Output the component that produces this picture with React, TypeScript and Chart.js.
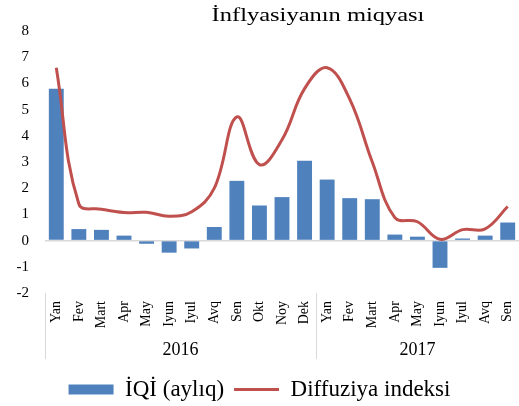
import React, { useEffect, useRef } from 'react';
import { Chart, registerables } from 'chart.js';

Chart.register(...registerables);

const months = ['Yan', 'Fev', 'Mart', 'Apr', 'May', 'Iyun', 'Iyul', 'Avq', 'Sen', 'Okt', 'Noy', 'Dek', 'Yan', 'Fev', 'Mart', 'Apr', 'May', 'Iyun', 'Iyul', 'Avq', 'Sen'];
const years = ['2016', '2017'];
const yearMonthCounts = [12, 9];
const iqiValues = [5.8, 0.44, 0.41, 0.19, -0.12, -0.46, -0.3, 0.52, 2.28, 1.34, 1.66, 3.05, 2.33, 1.62, 1.58, 0.23, 0.15, -1.04, 0.08, 0.19, 0.69];
const diffusionValues = [6.6, 1.4, 1.2, 1.07, 1.08, 0.93, 1.1, 2.0, 4.72, 2.9, 3.85, 5.8, 6.6, 5.4, 3.0, 0.88, 0.72, 0.05, 0.42, 0.45, 1.3];
const seriesNames = ['İQİ (aylıq)', 'Diffuziya indeksi'];
const titleText = 'İnflyasiyanın miqyası';
const yMin = -2;
const yMax = 8;

const FONT = '"Liberation Serif", "Times New Roman", serif';

const titlePlugin = {
  id: 'customTitle',
  afterDraw(chart: any) {
    const { ctx, chartArea } = chart;
    ctx.save();
    ctx.font = `18px ${FONT}`;
    ctx.fillStyle = '#000';
    ctx.textAlign = 'center';
    ctx.textBaseline = 'alphabetic';
    const cx = chartArea.left + (chartArea.right - chartArea.left) * 0.576;
    ctx.translate(cx, 21);
    ctx.scale(1.36, 1);
    ctx.fillText(titleText, 0, 0);
    ctx.restore();
  },
};

const yearPlugin = {
  id: 'yearGroups',
  afterDraw(chart: any) {
    const { ctx, chartArea, scales } = chart;
    const x = scales.x;
    const half = (x.getPixelForValue(1) - x.getPixelForValue(0)) / 2;
    const top = chartArea.bottom;
    const bottom = chartArea.bottom + 66;
    ctx.save();
    ctx.strokeStyle = '#d9d9d9';
    ctx.lineWidth = 1;
    let start = 0;
    const drawSep = (px: number) => {
      ctx.beginPath();
      ctx.moveTo(Math.round(px) + 0.5, top);
      ctx.lineTo(Math.round(px) + 0.5, bottom);
      ctx.stroke();
    };
    drawSep(x.getPixelForValue(0) - half);
    ctx.font = `18px ${FONT}`;
    ctx.fillStyle = '#000';
    ctx.textAlign = 'center';
    ctx.textBaseline = 'middle';
    years.forEach((yr, i) => {
      const end = start + yearMonthCounts[i] - 1;
      const left = x.getPixelForValue(start) - half;
      const right = x.getPixelForValue(end) + half;
      drawSep(right);
      ctx.fillText(yr, (left + right) / 2, chartArea.bottom + 57);
      start = end + 1;
    });
    ctx.restore();
  },
};

export default function App() {
  const ref = useRef<HTMLCanvasElement | null>(null);

  useEffect(() => {
    document.body.style.margin = '0';
    const canvas = ref.current;
    if (!canvas) return;
    const chart = new Chart(canvas, {
      type: 'bar',
      data: {
        labels: months,
        datasets: [
          {
            type: 'bar',
            label: seriesNames[0],
            data: iqiValues,
            backgroundColor: '#4f81bd',
            borderWidth: 0,
            barPercentage: 0.66,
            categoryPercentage: 1,
            order: 1,
          },
          {
            type: 'line',
            label: seriesNames[1],
            data: diffusionValues,
            borderColor: '#c0504d',
            backgroundColor: '#c0504d',
            borderWidth: 3,
            pointRadius: 0,
            pointStyle: 'line',
            tension: 0.4,
            fill: false,
            order: 0,
          },
        ],
      },
      options: {
        responsive: false,
        animation: false,
        layout: { padding: { top: 31, right: 0, left: 0, bottom: -5 } },
        plugins: {
          title: { display: false },
          tooltip: { enabled: false },
          legend: {
            display: true,
            position: 'bottom',
            labels: {
              usePointStyle: true,
              pointStyleWidth: 45,
              boxHeight: 10,
              padding: 10,
              color: '#000',
              font: { family: FONT, size: 23 },
              sort: (a: any, b: any) => a.datasetIndex - b.datasetIndex,
              generateLabels: (c: any) => {
                const items = Chart.defaults.plugins.legend.labels.generateLabels(c);
                items.forEach((it: any) => {
                  if (it.datasetIndex === 0) {
                    it.pointStyle = 'rect';
                    it.lineWidth = 0;
                  } else {
                    it.pointStyle = 'line';
                    it.lineWidth = 3;
                  }
                });
                return items;
              },
            },
          },
        },
        scales: {
          x: {
            type: 'category',
            grid: { display: false, drawTicks: false },
            border: { display: false },
            ticks: {
              minRotation: 90,
              maxRotation: 90,
              autoSkip: false,
              padding: 8,
              color: '#000',
              font: { family: FONT, size: 14 },
            },
            afterFit: (scale: any) => {
              scale.height = 75;
              scale.paddingLeft = 0;
              scale.paddingRight = 0;
            },
          },
          y: {
            min: yMin,
            max: yMax,
            grid: {
              drawTicks: false,
              lineWidth: 1.5,
              color: (ctx: any) => (ctx.tick && ctx.tick.value === 0 ? '#d9d9d9' : 'rgba(0,0,0,0)'),
            },
            border: { display: false },
            ticks: {
              stepSize: 1,
              padding: 16,
              color: '#000',
              font: { family: FONT, size: 15 },
            },
            afterFit: (scale: any) => {
              scale.width = 45;
            },
          },
        },
      },
      plugins: [titlePlugin, yearPlugin],
    });
    return () => chart.destroy();
  }, []);

  return (
    <div style={{ width: 519, height: 406 }}>
      <canvas ref={ref} width={519} height={406} style={{ display: 'block' }} />
    </div>
  );
}
